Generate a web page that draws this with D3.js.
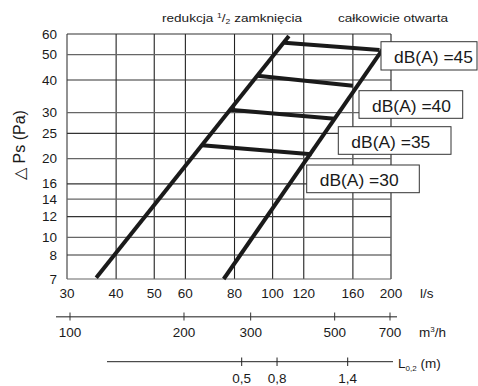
<!DOCTYPE html>
<html>
<head>
<meta charset="utf-8">
<script src="https://cdn.jsdelivr.net/npm/d3@7"></script>
<style>
body { margin: 0; background: #fff; }
text { font-family: "Liberation Sans", Arial, sans-serif; fill: #1a1a1a; }
</style>
</head>
<body>
<div id="plot"></div>
<script>
// flow in l/s, pressure in Pa
var flowTicks = [30, 40, 50, 60, 80, 100, 120, 160, 200];
var pressureTicks = [7, 8, 10, 12, 14, 16, 20, 25, 30, 40, 50, 60];
var m3hTicks = [100, 200, 300, 500, 700];
var throwTicks = [0.5, 0.8, 1.4];
var throwLabels = ["0,5", "0,8", "1,4"];

// characteristic lines [l/s, Pa]
var reducedLine = [[35.6, 7.05], [110, 58.9]];
var openLine = [[75.1, 7], [190.8, 52.6]];

// noise lines between both characteristics
var noiseLevels = [45, 40, 35, 30];
var noiseStart = [[107.1, 55.5], [91.5, 41.5], [77.7, 30.8], [66.1, 22.5]];
var noiseEnd = [[187.0, 52.1], [160.0, 38.0], [144.0, 28.4], [125.6, 20.8]];

var svg = d3.select("#plot").append("svg")
	.attr("width", 478)
	.attr("height", 386);

var x = d3.scaleLog().domain([30, 200]).range([67, 391]);
// the printed chart is not evenly logarithmic at the bottom
var y = d3.scaleLog().domain([7, 8, 10, 60]).range([279, 255, 237.3, 34]);
var xm = d3.scaleLog().domain([100, 700]).range([70, 390]);
var xl = d3.scaleLinear().domain([0.5, 1.4]).range([241.7, 347.7]);

// grid
svg.selectAll("line.vgrid").data(flowTicks).enter().append("line")
	.attr("x1", function(d){return x(d);})
	.attr("x2", function(d){return x(d);})
	.attr("y1", y(60))
	.attr("y2", y(7))
	.style("stroke", function(d, i){return i == 0 ? "#777" : "#222";})
	.style("stroke-width", function(d, i){return i == 0 ? 1.6 : 1.1;});

svg.selectAll("line.hgrid").data(pressureTicks).enter().append("line")
	.attr("x1", x(30))
	.attr("x2", x(200))
	.attr("y1", function(d){return y(d);})
	.attr("y2", function(d){return y(d);})
	.style("stroke", function(d, i){return i % 2 ? "#333" : "#666";})
	.style("stroke-width", 1.2);

// y tick labels
svg.selectAll("text.ylab").data(pressureTicks).enter().append("text")
	.attr("x", 57)
	.attr("y", function(d){return y(d) + 4.5;})
	.attr("text-anchor", "end")
	.style("font-size", "13.5px")
	.text(function(d){return d;});

// x tick labels l/s
svg.selectAll("text.xlab").data(flowTicks).enter().append("text")
	.attr("x", function(d){return x(d);})
	.attr("y", 298)
	.attr("text-anchor", "middle")
	.style("font-size", "13.5px")
	.text(function(d){return d;});
svg.append("text").attr("x", 420).attr("y", 298)
	.style("font-size", "13.5px").text("l/s");

// m3/h axis
svg.append("line")
	.attr("x1", 56).attr("x2", 397).attr("y1", 316.7).attr("y2", 316.7)
	.style("stroke", "#666").style("stroke-width", 1.5);
svg.selectAll("line.mtick").data(m3hTicks).enter().append("line")
	.attr("x1", function(d){return xm(d);})
	.attr("x2", function(d){return xm(d);})
	.attr("y1", 312.5).attr("y2", 320.5)
	.style("stroke", "#333").style("stroke-width", 1);
svg.selectAll("text.mlab").data(m3hTicks).enter().append("text")
	.attr("x", function(d){return xm(d);})
	.attr("y", 337)
	.attr("text-anchor", "middle")
	.style("font-size", "13.5px")
	.text(function(d){return d;});
var mt = svg.append("text").attr("x", 419).attr("y", 337).style("font-size", "13.5px");
mt.append("tspan").text("m");
mt.append("tspan").attr("dy", -5).style("font-size", "8px").text("3");
mt.append("tspan").attr("dy", 5).text("/h");

// throw axis
svg.append("line")
	.attr("x1", 107).attr("x2", 393).attr("y1", 361.7).attr("y2", 361.7)
	.style("stroke", "#222").style("stroke-width", 1);
svg.selectAll("line.ltick").data(throwTicks).enter().append("line")
	.attr("x1", function(d){return xl(d);})
	.attr("x2", function(d){return xl(d);})
	.attr("y1", 357.5).attr("y2", 366)
	.style("stroke", "#222").style("stroke-width", 1);
svg.selectAll("text.llab").data(throwTicks).enter().append("text")
	.attr("x", function(d){return xl(d);})
	.attr("y", 383)
	.attr("text-anchor", "middle")
	.style("font-size", "13.5px")
	.text(function(d, i){return throwLabels[i];});
var lt = svg.append("text").attr("x", 398).attr("y", 368).style("font-size", "13.5px");
lt.append("tspan").text("L");
lt.append("tspan").attr("dy", 3).style("font-size", "8px").text("0,2");
lt.append("tspan").attr("dy", -3).text(" (m)");

// titles
var t1 = svg.append("text").attr("x", 162).attr("y", 21.5)
	.attr("textLength", 140).attr("lengthAdjust", "spacingAndGlyphs")
	.style("font-size", "11px");
t1.append("tspan").text("redukcja ");
t1.append("tspan").attr("dy", -4).style("font-size", "7px").text("1");
t1.append("tspan").attr("dy", 4).text("/");
t1.append("tspan").attr("dy", 2).style("font-size", "7px").text("2");
t1.append("tspan").attr("dy", -2).text(" zamknięcia");
svg.append("text").attr("x", 338).attr("y", 21.5)
	.attr("textLength", 110).attr("lengthAdjust", "spacingAndGlyphs")
	.style("font-size", "11px")
	.text("całkowicie otwarta");

svg.append("text")
	.attr("transform", "translate(25,145) rotate(-90)")
	.attr("text-anchor", "middle")
	.style("font-size", "16px")
	.text("△ Ps (Pa)");

// curves
var line = d3.line()
	.x(function(d){return x(d[0]);})
	.y(function(d){return y(d[1]);});

[reducedLine, openLine].forEach(function(pts){
	svg.append("path")
		.attr("d", line(pts))
		.style("fill", "none")
		.style("stroke", "#1a1a1a")
		.style("stroke-width", 4);
});

noiseLevels.forEach(function(lv, i){
	svg.append("path")
		.attr("d", line([noiseStart[i], noiseEnd[i]]))
		.style("fill", "none")
		.style("stroke", "#1a1a1a")
		.style("stroke-width", 4);
});

// label boxes, placed right of each line end
var boxes = [
	{x: 381, y: 41.7, w: 96, h: 28.3},
	{x: 359, y: 90.7, w: 103.7, h: 27.6},
	{x: 338.3, y: 126.7, w: 112.7, h: 27.6},
	{x: 306.7, y: 165, w: 112.6, h: 27.7}
];
noiseLevels.forEach(function(lv, i){
	var b = boxes[i];
	svg.append("rect")
		.attr("x", b.x).attr("y", b.y).attr("width", b.w).attr("height", b.h)
		.style("fill", "#fff").style("stroke", "#333").style("stroke-width", 1);
	svg.append("text")
		.attr("x", b.x + 13).attr("y", b.y + 21)
		.attr("textLength", 79).attr("lengthAdjust", "spacingAndGlyphs")
		.style("font-size", "16.5px")
		.text("dB(A) =" + lv);
});
</script>
</body>
</html>
